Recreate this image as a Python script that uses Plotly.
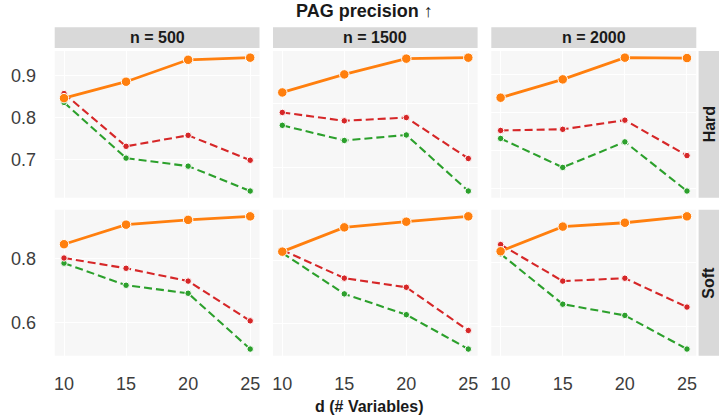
import plotly.graph_objects as go

# ---------------- data ----------------
d_vars = [10, 15, 20, 25]
col_labels = ["n = 500", "n = 1500", "n = 2000"]
row_labels = ["Hard", "Soft"]
x_ticks = [10, 15, 20, 25]

# orange (solid) series, per panel [row][col]
orange_hard_500 = [0.846, 0.885, 0.937, 0.942]
orange_hard_1500 = [0.834, 0.890, 0.939, 0.942]
orange_hard_2000 = [0.839, 0.887, 0.944, 0.943]
orange_soft_500 = [0.845, 0.906, 0.921, 0.932]
orange_soft_1500 = [0.828, 0.905, 0.923, 0.940]
orange_soft_2000 = [0.836, 0.913, 0.925, 0.945]

# red (dashed) series
red_hard_500 = [0.857, 0.732, 0.758, 0.699]
red_hard_1500 = [0.772, 0.746, 0.756, 0.629]
red_hard_2000 = [0.753, 0.756, 0.780, 0.687]
red_soft_500 = [0.802, 0.770, 0.730, 0.606]
red_soft_1500 = [0.833, 0.744, 0.715, 0.578]
red_soft_2000 = [0.857, 0.743, 0.752, 0.662]

# green (dashed) series
green_hard_500 = [0.836, 0.704, 0.685, 0.626]
green_hard_1500 = [0.732, 0.685, 0.702, 0.528]
green_hard_2000 = [0.732, 0.656, 0.723, 0.594]
green_soft_500 = [0.786, 0.717, 0.692, 0.518]
green_soft_1500 = [0.824, 0.694, 0.628, 0.519]
green_soft_2000 = [0.828, 0.671, 0.636, 0.531]

orange = [[orange_hard_500, orange_hard_1500, orange_hard_2000],
          [orange_soft_500, orange_soft_1500, orange_soft_2000]]
red = [[red_hard_500, red_hard_1500, red_hard_2000],
       [red_soft_500, red_soft_1500, red_soft_2000]]
green = [[green_hard_500, green_hard_1500, green_hard_2000],
         [green_soft_500, green_soft_1500, green_soft_2000]]

# ---------------- layout geometry ----------------
W, H = 719, 419
def fx(px):
    return px / W
def fy(py):
    return 1 - py / H

col_x = [(54.7, 259.5), (273.0, 477.6), (491.3, 696.3)]
row_y = [(51.0, 197.7), (209.7, 355.7)]
y_dtick = [[0.1, 0.2, 0.1], [0.2, 0.2, 0.2]]

FONT = "Liberation Sans, Arial, sans-serif"
C_ORANGE = "#ff7f0e"
C_RED = "#d62728"
C_GREEN = "#2ca02c"
STRIP = "#d9d9d9"
TICK_C = "#3d3d3d"
TEXT_C = "#1a1a1a"

fig = go.Figure()
layout = dict(
    width=W, height=H, template="none",
    margin=dict(l=0, r=0, t=0, b=0),
    paper_bgcolor="white", plot_bgcolor="#f7f7f7",
    showlegend=False,
    font=dict(family=FONT, color=TEXT_C),
)
shapes = []
annotations = []

for r in range(2):
    for c in range(3):
        idx = r * 3 + c + 1
        sfx = "" if idx == 1 else str(idx)
        xa, ya = "x" + sfx, "y" + sfx
        series = [
            (green[r][c], C_GREEN, "dash", 2.1, 6.5),
            (red[r][c], C_RED, "dash", 2.1, 6.5),
            (orange[r][c], C_ORANGE, "solid", 2.8, 9.5),
        ]
        allv = green[r][c] + red[r][c] + orange[r][c]
        lo, hi = min(allv), max(allv)
        pad = 0.05 * (hi - lo)
        for vals, col, dash, lw, ms in series:
            fig.add_trace(go.Scatter(
                x=d_vars, y=vals, xaxis=xa, yaxis=ya, mode="lines+markers",
                line=dict(color=col, width=lw, dash=("8px,4px" if dash == "dash" else "solid")),
                marker=dict(color=col, size=ms, line=dict(color="white", width=1)),
                hoverinfo="skip",
            ))
        layout["xaxis" + sfx] = dict(
            domain=[fx(col_x[c][0]), fx(col_x[c][1])], anchor=ya,
            range=[9.25, 25.75], tickvals=x_ticks, showticklabels=(r == 1),
            showgrid=True, gridcolor="white", gridwidth=1.4,
            zeroline=False, showline=False, automargin=False,
            ticks="outside", ticklen=12, tickcolor="rgba(0,0,0,0)",
            tickfont=dict(family=FONT, size=18, color=TICK_C),
        )
        layout["yaxis" + sfx] = dict(
            domain=[fy(row_y[r][1]), fy(row_y[r][0])], anchor=xa,
            range=[lo - pad, hi + pad], dtick=y_dtick[r][c], tick0=0,
            showticklabels=(c == 0),
            showgrid=True, gridcolor="white", gridwidth=1.4,
            zeroline=False, showline=False, automargin=False,
            ticks="outside", ticklen=14, tickcolor="rgba(0,0,0,0)",
            tickfont=dict(family=FONT, size=18, color=TICK_C),
        )

# column strips
for c in range(3):
    x0, x1 = col_x[c]
    shapes.append(dict(type="rect", xref="paper", yref="paper",
                       x0=fx(x0), x1=fx(x1), y0=fy(48.0), y1=fy(27.3),
                       fillcolor=STRIP, line=dict(width=0), layer="below"))
    annotations.append(dict(text="<b>%s</b>" % col_labels[c], xref="paper", yref="paper",
                            x=fx((x0 + x1) / 2), y=fy(37.6), showarrow=False,
                            xanchor="center", yanchor="middle",
                            font=dict(family=FONT, size=16, color=TEXT_C)))
# row strips
for r in range(2):
    y0, y1 = row_y[r]
    shapes.append(dict(type="rect", xref="paper", yref="paper",
                       x0=fx(698.6), x1=fx(719.5), y0=fy(y1), y1=fy(y0),
                       fillcolor=STRIP, line=dict(width=0), layer="below"))
    annotations.append(dict(text="<b>%s</b>" % row_labels[r], xref="paper", yref="paper",
                            x=fx(709.0), y=fy((y0 + y1) / 2), showarrow=False,
                            textangle=-90, xanchor="center", yanchor="middle",
                            font=dict(family=FONT, size=16, color=TEXT_C)))

# title and x axis title
annotations.append(dict(text="<b>PAG precision ↑</b>", xref="paper", yref="paper",
                        x=fx(365), y=fy(10.5), showarrow=False,
                        xanchor="center", yanchor="middle",
                        font=dict(family=FONT, size=18, color=TEXT_C)))
annotations.append(dict(text="<b>d (# Variables)</b>", xref="paper", yref="paper",
                        x=fx(369), y=fy(406), showarrow=False,
                        xanchor="center", yanchor="middle",
                        font=dict(family=FONT, size=16, color=TEXT_C)))

layout["shapes"] = shapes
layout["annotations"] = annotations
fig.update_layout(**layout)
fig.write_html("out.html", config={"displayModeBar": False},
               post_script="document.body.style.margin='0';document.body.style.overflow='hidden';")
